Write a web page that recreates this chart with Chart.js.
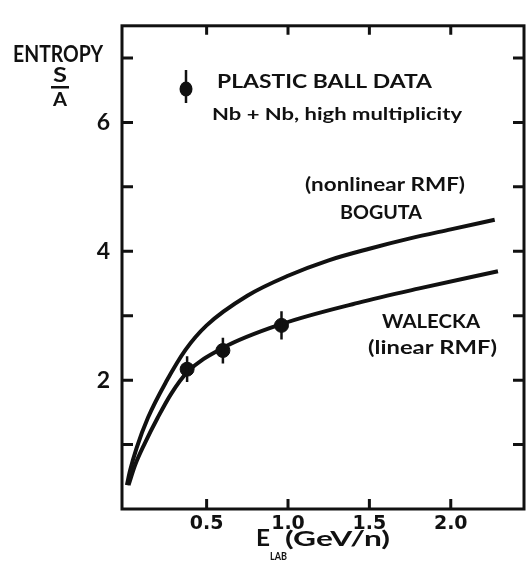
<!DOCTYPE html>
<html>
<head>
<meta charset="utf-8">
<script src="https://cdn.jsdelivr.net/npm/chart.js@4.4.1/dist/chart.umd.min.js"></script>
<style>
  html, body { margin: 0; padding: 0; background: #fff; }
  #wrap { width: 532px; height: 569px; }
</style>
</head>
<body>
<div id="wrap"><canvas id="entropy" width="532" height="569"></canvas></div>
<script>
// beam energy (GeV/n) and entropy per baryon
const bogutaE = [0.01, 0.03, 0.07, 0.14, 0.25, 0.37, 0.5, 0.75, 1.0, 1.25, 1.5, 1.75, 2.0, 2.27];
const bogutaS = [0.37, 0.6, 0.95, 1.42, 1.97, 2.47, 2.85, 3.31, 3.62, 3.86, 4.04, 4.2, 4.34, 4.49];

const waleckaE = [0.02, 0.06, 0.12, 0.2, 0.28, 0.38, 0.6, 0.96, 1.43, 1.8, 2.29];
const waleckaS = [0.37, 0.68, 1.02, 1.42, 1.78, 2.12, 2.5, 2.87, 3.2, 3.42, 3.69];

const dataE = [0.38, 0.60, 0.96];
const dataS = [2.17, 2.46, 2.85];
const dataErr = [0.2, 0.2, 0.22];

const xTicks = [0.5, 1.0, 1.5, 2.0];
const yTicks = [1, 2, 3, 4, 5, 6, 7];
const yLabelTicks = [2, 4, 6];

const INK = '#111';
const FONT = 'Lato, "DejaVu Sans", sans-serif';

const toXY = (xs, ys) => xs.map((x, i) => ({ x, y: ys[i] }));

// bold text squeezed/stretched horizontally to span `width` px
function fitText(ctx, str, left, cy, size, width) {
  ctx.save();
  ctx.font = `700 ${size}px ${FONT}`;
  ctx.textBaseline = 'middle';
  ctx.textAlign = 'left';
  ctx.fillStyle = INK;
  const w = ctx.measureText(str).width;
  ctx.translate(left, cy);
  ctx.scale(width ? width / w : 1, 1);
  ctx.fillText(str, 0, 0);
  ctx.restore();
}

const framePlugin = {
  id: 'frame',
  afterDraw(chart) {
    const { ctx, chartArea: a, scales: { x, y } } = chart;
    ctx.save();
    ctx.strokeStyle = INK;
    ctx.lineWidth = 3;
    ctx.strokeRect(a.left, a.top, a.right - a.left, a.bottom - a.top);

    // inward ticks on all four sides
    ctx.beginPath();
    xTicks.forEach(v => {
      const px = x.getPixelForValue(v);
      ctx.moveTo(px, a.bottom); ctx.lineTo(px, a.bottom - 10);
      ctx.moveTo(px, a.top); ctx.lineTo(px, a.top + 9);
    });
    yTicks.forEach(v => {
      const py = y.getPixelForValue(v);
      ctx.moveTo(a.left, py); ctx.lineTo(a.left + 11, py);
      ctx.moveTo(a.right, py); ctx.lineTo(a.right - 11, py);
    });
    ctx.stroke();

    // error bars on the measured points
    ctx.lineWidth = 2.5;
    ctx.beginPath();
    dataE.forEach((e, i) => {
      const px = x.getPixelForValue(e);
      ctx.moveTo(px, y.getPixelForValue(dataS[i] - dataErr[i]));
      ctx.lineTo(px, y.getPixelForValue(dataS[i] + dataErr[i]));
    });
    ctx.stroke();

    // legend symbol
    ctx.beginPath();
    ctx.moveTo(186, 70); ctx.lineTo(186, 103);
    ctx.stroke();
    ctx.fillStyle = INK;
    ctx.beginPath();
    ctx.ellipse(186, 89, 6.5, 7.5, 0, 0, Math.PI * 2);
    ctx.fill();

    // y axis title
    fitText(ctx, 'ENTROPY', 13, 55, 22, 90);
    fitText(ctx, 'S', 53, 76, 20, 14);
    fitText(ctx, 'A', 53, 100, 19, 14);
    ctx.fillRect(51, 86, 18, 2.5);

    // x axis title, with subscript
    fitText(ctx, 'E', 256, 539, 23, 14);
    fitText(ctx, 'LAB', 270, 556, 12, 17);
    fitText(ctx, '(GeV/n)', 285, 540, 20, 105);

    // legend and curve captions
    fitText(ctx, 'PLASTIC BALL DATA', 217, 82, 19.5, 215);
    fitText(ctx, 'Nb + Nb, high multiplicity', 212, 115, 17, 250);
    fitText(ctx, '(nonlinear RMF)', 305, 185, 18, 160);
    fitText(ctx, 'BOGUTA', 340, 213, 18.5, 82);
    fitText(ctx, 'WALECKA', 382, 322, 18.5, 98);
    fitText(ctx, '(linear RMF)', 368, 348, 18.5, 129);
    ctx.restore();
  }
};

new Chart(document.getElementById('entropy'), {
  type: 'line',
  data: {
    datasets: [
      {
        label: 'BOGUTA (nonlinear RMF)',
        data: toXY(bogutaE, bogutaS),
        borderColor: INK, borderWidth: 4,
        pointRadius: 0, cubicInterpolationMode: 'monotone', fill: false
      },
      {
        label: 'WALECKA (linear RMF)',
        data: toXY(waleckaE, waleckaS),
        borderColor: INK, borderWidth: 4,
        pointRadius: 0, cubicInterpolationMode: 'monotone', fill: false
      },
      {
        label: 'PLASTIC BALL DATA',
        type: 'scatter',
        data: toXY(dataE, dataS),
        backgroundColor: INK, borderColor: INK,
        pointRadius: 7, pointHoverRadius: 7, showLine: false
      }
    ]
  },
  options: {
    responsive: false,
    animation: false,
    devicePixelRatio: 1,
    layout: { padding: { top: 16, right: 5, left: 0, bottom: 0 } },
    plugins: { legend: { display: false }, tooltip: { enabled: false } },
    scales: {
      x: {
        type: 'linear', min: -0.02, max: 2.45,
        afterBuildTicks: s => { s.ticks = xTicks.map(v => ({ value: v })); },
        afterFit: s => { s.height = 60; },
        grid: { display: false, drawTicks: false },
        border: { display: false },
        ticks: {
          color: INK, padding: 4, maxRotation: 0, autoSkip: false,
          font: { family: '"DejaVu Sans", sans-serif', size: 19, weight: '700' },
          callback: v => v.toFixed(1)
        }
      },
      y: {
        type: 'linear', min: 0, max: 7.5,
        afterBuildTicks: s => { s.ticks = yLabelTicks.map(v => ({ value: v })); },
        afterFit: s => { s.width = 122; },
        grid: { display: false, drawTicks: false },
        border: { display: false },
        ticks: {
          color: INK, padding: 12, autoSkip: false,
          font: { family: FONT, size: 23, weight: '700' },
          callback: v => String(v)
        }
      }
    }
  },
  plugins: [framePlugin]
});
</script>
</body>
</html>
